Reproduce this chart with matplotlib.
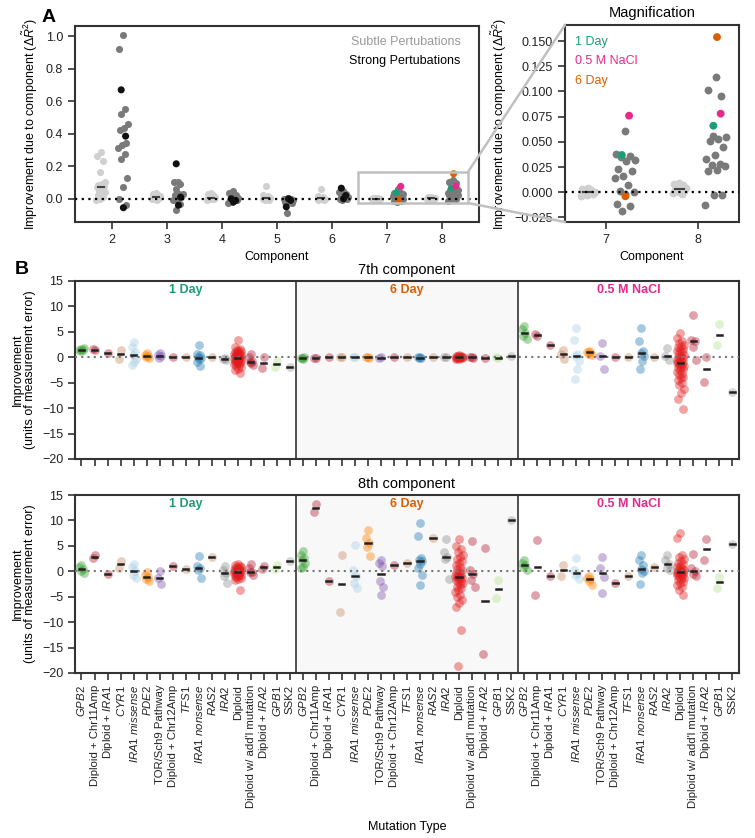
import numpy as np
import matplotlib
matplotlib.use("Agg")
import matplotlib.pyplot as plt
from matplotlib.patches import Rectangle, ConnectionPatch

plt.rcParams['font.family'] = ['Liberation Sans', 'DejaVu Sans']
plt.rcParams['mathtext.fontset'] = 'custom'
plt.rcParams['mathtext.rm'] = 'Liberation Sans'
plt.rcParams['mathtext.it'] = 'Liberation Sans:italic'
plt.rcParams['mathtext.bf'] = 'Liberation Sans:bold'
plt.rcParams['axes.unicode_minus'] = True

# ---------------- panel A data (components 2..8) ----------------
components = [2, 3, 4, 5, 6, 7, 8]
subtle_vals = [
    [0.29, 0.26, 0.23, 0.165, 0.10, 0.09, 0.085, 0.08, 0.075, 0.07, 0.065, 0.05, 0.04, 0.03, 0.02, 0.01, 0.0, -0.005],
    [0.035, 0.03, 0.025, 0.02, 0.015, 0.01, 0.01, 0.005, 0.0, 0.0, -0.005],
    [0.035, 0.03, 0.02, 0.015, 0.01, 0.005, 0.005, 0.0, 0.0, -0.005],
    [0.08, 0.02, 0.015, 0.01, 0.005, 0.0, 0.0, -0.005, -0.005],
    [0.06, 0.015, 0.01, 0.005, 0.0, 0.0, -0.005, -0.01],
    [0.004, 0.003, 0.002, 0.001, 0.0, 0.0, -0.001, -0.002, -0.003, -0.004],
    [0.009, 0.008, 0.007, 0.006, 0.004, 0.003, 0.002, 0.001, 0.0, -0.001, -0.002],
]
strong_vals = [
    [1.005, 0.92, 0.555, 0.52, 0.46, 0.435, 0.425, 0.345, 0.33, 0.31, 0.275, 0.245, 0.13, 0.07, 0.0, -0.04],
    [0.105, 0.10, 0.09, 0.06, 0.03, 0.03, 0.02, 0.01, 0.0, -0.01, -0.03, -0.07],
    [0.045, 0.035, 0.02, 0.01, 0.005, 0.0, -0.005, -0.01, -0.02, -0.025],
    [0.005, 0.0, 0.0, -0.005, -0.01, -0.015, -0.02, -0.025, -0.085],
    [0.05, 0.04, 0.03, 0.02, 0.01, 0.005, 0.0, 0.0, -0.005],
    [0.061, 0.038, 0.036, 0.035, 0.032, 0.031, 0.023, 0.021, 0.016, 0.014, 0.007, 0.001, 0.0, -0.002, -0.012, -0.014, -0.019],
    [0.114, 0.101, 0.096, 0.056, 0.055, 0.053, 0.051, 0.045, 0.037, 0.033, 0.028, 0.027, 0.026, 0.022, 0.021, -0.003, -0.003, -0.013],
]
env_day1 = [0.67, 0.215, 0.0, -0.05, 0.065, 0.037, 0.066]
env_nacl = [0.385, 0.01, -0.01, -0.01, 0.02, 0.076, 0.078]
env_day6 = [-0.055, -0.04, -0.02, 0.0, 0.0, -0.004, 0.154]

# ---------------- panel B data ----------------
cat_labels = [r'$\mathit{GPB2}$', 'Diploid + Chr11Amp', r'Diploid + $\mathit{IRA1}$', r'$\mathit{CYR1}$',
              r'$\mathit{IRA1\ missense}$', r'$\mathit{PDE2}$', 'TOR/Sch9 Pathway', 'Diploid + Chr12Amp',
              r'$\mathit{TFS1}$', r'$\mathit{IRA1\ nonsense}$', r'$\mathit{RAS2}$', r'$\mathit{IRA2}$',
              'Diploid', "Diploid w/ add'l mutation", r'Diploid + $\mathit{IRA2}$', r'$\mathit{GPB1}$', 'SSK2']
cat_colors = ['#33a02c', '#b2182b', '#b2182b', '#c8865e', '#a6cee3', '#ff7f00', '#7b52ab', '#b2182b',
              '#c8865e', '#1f78b4', '#c8865e', '#8c8c8c', '#e31a1c', '#b2182b', '#b2182b', '#b2df8a', '#9a9a9a']
env_names = ['1 Day', '6 Day', '0.5 M NaCl']
env_colors = ['#1b9e77', '#d95f02', '#e7298a']

c7_day1_diploid = [3.3, 2.0, 1.7, 1.5, 1.3, 1.2, 1.0, 0.9, 0.8, 0.7, 0.6, 0.5, 0.4, 0.3, 0.2, 0.1, 0.0, -0.1,
                   -0.2, -0.2, -0.3, -0.4, -0.5, -0.6, -0.7, -0.8, -0.9, -1.0, -1.1, -1.2, -1.4, -1.6, -1.8,
                   -2.0, -2.3, -2.6, -3.0]
c7_day6_diploid = [0.4, 0.3, 0.2, 0.2, 0.1, 0.1, 0.0, 0.0, 0.0, -0.1, -0.1, -0.2, -0.2, -0.3, -0.4]
c7_nacl_diploid = [4.7, 3.8, 3.2, 2.8, 2.5, 2.2, 2.0, 1.7, 1.5, 1.2, 1.0, 0.8, 0.5, 0.3, 0.1, -0.1, -0.3,
                   -0.5, -0.7, -0.9, -1.0, -1.1, -1.2, -1.4, -1.6, -1.8, -2.0, -2.2, -2.4, -2.6, -2.9, -3.2,
                   -3.5, -3.8, -4.1, -4.5, -5.0, -5.5, -6.3, -7.0, -8.3, -10.2]
c8_day1_diploid = [1.5, 1.3, 1.1, 0.9, 0.8, 0.7, 0.6, 0.5, 0.4, 0.3, 0.2, 0.1, 0.0, -0.1, -0.2, -0.2, -0.3,
                   -0.4, -0.5, -0.6, -0.7, -0.8, -0.9, -1.0, -1.1, -1.3, -1.5, -1.8, -3.7]
c8_day6_diploid = [6.3, 5.0, 4.3, 3.8, 3.3, 2.9, 2.5, 2.1, 1.7, 1.3, 0.9, 0.5, 0.2, -0.1, -0.4, -0.7, -0.9,
                   -1.0, -1.1, -1.2, -1.3, -1.5, -1.7, -1.9, -2.1, -2.4, -2.7, -3.0, -3.3, -3.7, -4.1, -4.6,
                   -5.1, -5.7, -6.3, -7.1, -11.5, -18.7]
c8_nacl_diploid = [7.5, 6.6, 3.3, 2.8, 2.4, 2.0, 1.7, 1.4, 1.1, 0.9, 0.7, 0.5, 0.3, 0.1, 0.0, -0.1, -0.2,
                   -0.25, -0.3, -0.4, -0.5, -0.6, -0.8, -1.0, -1.2, -1.4, -1.6, -1.8, -2.1, -2.4, -2.7, -3.1,
                   -3.6, -4.6]

c7_day1 = [[1.2, 1.4, 1.5, 1.7, 1.9], [1.4, 1.6], [0.8], [1.4, -0.3], [3.0, 2.0, 1.0, 0.5, -0.3, -1.0, -1.5],
           [0.9, 0.5, 0.3, 0.1, -0.1], [0.8, 0.4, 0.2, -0.1], [0.0], [0.0],
           [2.4, 0.6, 0.4, 0.0, -0.1, -0.4, -0.9, -1.7], [0.0], [-0.1, -0.3, -0.5], c7_day1_diploid,
           [0.7, 0.0, -0.8, -0.9, -1.6, -1.2], [0.0, -2.1], [-0.8, -1.9], [-1.9]]
c7_day6 = [[-0.3, -0.1, 0.0, -0.2], [-0.2, -0.1], [0.0], [0.0, 0.1], [0.0, 0.1], [0.0, 0.1, -0.1],
           [0.0, -0.1], [0.0], [0.0], [0.0, 0.1, -0.1, -0.2], [0.0], [0.0, 0.1], c7_day6_diploid,
           [0.0, 0.1, -0.1], [-0.1], [-0.1, 0.0], [0.2]]
c7_nacl = [[6.2, 5.5, 4.7, 4.1, 3.5], [4.2, 4.5], [2.4], [1.4, 0.7, -0.3], [5.7, 3.4, 0.6, 0.25, -0.8, -2.3, -4.3],
           [1.3, 1.1, 1.0, 0.7, 0.5], [2.75, 0.25, -2.4], [0.0], [0.0], [5.7, 3.1, 1.2, 0.8, 0.2, -0.7, -2.4],
           [0.0], [1.8, 0.25, -0.5], c7_nacl_diploid, [8.3, 3.4, 3.1, 2.1, -0.5], [0.0, -4.8], [6.5, 2.4], [-6.9]]
c8_day1 = [[1.2, 0.8, 0.45, 0.1, -0.4], [3.2, 2.6], [-0.5], [2.1, 0.7], [1.5, 0.9, 0.0, -0.7, -1.3],
           [-0.1, -0.8, -1.1, -1.5, -1.9], [0.1, -1.25, -2.5], [1.1], [0.4], [3.0, 1.0, 0.6, 0.2, -1.4],
           [2.75], [1.0, 0.3, -0.4, -1.0, -2.3], c8_day1_diploid, [1.5, 0.6, -0.1, -0.2, -0.7], [1.1, 0.4],
           [1.3, 0.4], [2.1]]
c8_day6 = [[4.0, 3.2, 2.7, 2.2, 1.7, 0.9, 0.6], [13.2, 11.6], [-1.9], [3.2, -8.1], [5.2, 0.2, -0.9, -2.4, -3.3],
           [8.1, 6.6, 5.5, 4.8, 3.1], [2.2, 1.6, 1.0, -2.0, -3.0, -4.7], [1.2], [1.7],
           [9.4, 7.0, 2.6, 2.3, 2.1, 1.5, 0.6, -0.7, -2.7], [6.5], [6.4, 3.7, 2.75, 2.4, -1.5], c8_day6_diploid,
           [6.0, 0.3, -0.5, -1.7, -3.0], [4.5, -16.2], [-1.7, -5.3], [10.0]]
c8_nacl = [[2.2, 1.6, 1.2, 0.8, 0.3], [6.2, -4.6], [-1.0], [1.3, -0.9], [2.7, 0.2, -0.25, -0.8, -1.6],
           [-1.0, -1.4, -1.6, -1.9, -2.7], [2.9, 0.6, -1.1, -4.3], [-2.4], [-0.9],
           [3.2, 2.2, 1.2, 0.45, 0.0, -0.4, -2.5], [0.9], [3.2, 2.2, 1.45, 0.7, 0.25], c8_nacl_diploid,
           [3.4, 0.6, 0.05, -0.5, -1.0], [6.3, 2.3], [-1.1, -3.3], [5.4]]

SPINE = '#333333'
FS = 9


def jitter(n, half):
    # deterministic low-discrepancy spread of points around a category centre
    if n == 1:
        return np.zeros(1)
    return ((np.arange(n) * 0.618034 + 0.5) % 1.0 - 0.5) * 2 * half


def style_axes(ax):
    for s in ax.spines.values():
        s.set_color(SPINE)
        s.set_linewidth(1.5)
    ax.tick_params(colors=SPINE, labelcolor='#222222', width=1.2, length=5, labelsize=FS)


fig = plt.figure(figsize=(7.55, 8.38), dpi=100)
axA = fig.add_axes([0.0993, 0.7351, 0.535, 0.2339])
axM = fig.add_axes([0.7483, 0.7351, 0.2305, 0.2351])
axB1 = fig.add_axes([0.0993, 0.4523, 0.8795, 0.2124])
axB2 = fig.add_axes([0.0993, 0.1969, 0.8795, 0.2124])

# ---------------- panel A ----------------
for ax, half_s, half_t, size in ((axA, 0.08, 0.1, 26), (axM, 0.08, 0.12, 32)):
    for i, c in enumerate(components):
        sv = np.array(subtle_vals[i])
        ax.scatter(c - 0.2 + jitter(len(sv), half_s), sv, s=size, color='#d0d0d0', lw=0, zorder=2)
        ax.plot([c - 0.25, c - 0.15], [np.median(sv)] * 2, color='#444444', lw=1.5, zorder=3)
        tv = np.array(strong_vals[i])
        ax.scatter(c + 0.2 + jitter(len(tv), half_t), tv, s=size, color='#7a7a7a', lw=0, zorder=2)
        ev = [env_day1[i], env_nacl[i], env_day6[i]]
        cols = [env_colors[0], env_colors[2], env_colors[1]] if c >= 7 else ['#111111'] * 3
        ax.scatter(c + 0.2 + np.array([-0.03, 0.05, 0.01]), ev, s=size, color=cols, lw=0, zorder=4)
    ax.axhline(0, color='k', ls=(0, (1, 2)), lw=1.6, zorder=5)
    style_axes(ax)
    ax.set_xlabel('Component', fontsize=FS)
    ax.set_ylabel(r'Improvement due to component ($\Delta\tilde{R}^2$)', fontsize=FS)

axA.set_xlim(1.33, 8.67)
axA.set_ylim(-0.143, 1.063)
axA.set_xticks(components)
axA.set_yticks(np.arange(0, 1.01, 0.2))
axA.set_yticklabels(['0.0', '0.2', '0.4', '0.6', '0.8', '1.0'])
axA.text(0.955, 0.918, 'Subtle Pertubations', color='#999999', fontsize=FS, ha='right', va='center',
         transform=axA.transAxes)
axA.text(0.955, 0.82, 'Strong Pertubations', color='black', fontsize=FS, ha='right', va='center',
         transform=axA.transAxes)

axM.set_xlim(6.55, 8.45)
axM.set_ylim(-0.0295, 0.166)
axM.set_xticks([7, 8])
axM.set_yticks(np.arange(-0.025, 0.151, 0.025))
axM.set_yticklabels(['{:.3f}'.format(v).replace('-', '\u2212') for v in np.arange(-0.025, 0.151, 0.025)])
axM.set_title('Magnification', fontsize=10.5, pad=6)
for j, (name, col) in enumerate(zip(['1 Day', '0.5 M NaCl', '6 Day'], [env_colors[0], env_colors[2], env_colors[1]])):
    axM.text(0.06, 0.914 - 0.098 * j, name, color=col, fontsize=FS, va='center', transform=axM.transAxes)

# zoom box and connectors
x0, x1 = 6.47, 8.47
y0, y1 = -0.026, 0.164
axA.add_patch(Rectangle((x0, y0), x1 - x0, y1 - y0, fill=False, ec='#c0c0c0', lw=1.8, zorder=6))
for ya, yb in ((y1, 1.0), (y0, 0.0)):
    con = ConnectionPatch(xyA=(x1, ya), coordsA=axA.transData, xyB=(0.0, yb), coordsB=axM.transAxes,
                          color='#c0c0c0', lw=1.8)
    fig.add_artist(con)

# ---------------- panel B ----------------
ncat = len(cat_labels)
for ax, groups, title in ((axB1, (c7_day1, c7_day6, c7_nacl), '7th component'),
                          (axB2, (c8_day1, c8_day6, c8_nacl), '8th component')):
    ax.axvspan(ncat - 0.5, 2 * ncat - 0.5, color='#f8f8f8', zorder=0)
    for e, data in enumerate(groups):
        for k, vals in enumerate(data):
            v = np.array(vals)
            x = e * ncat + k
            half = 0.3 if len(v) > 12 else 0.2
            ax.scatter(x + jitter(len(v), half), v, s=40, color=cat_colors[k], alpha=0.4, lw=0, zorder=2)
            ax.plot([x - 0.2, x + 0.2], [np.median(v)] * 2, color='#222222', lw=1.8, zorder=4)
        ax.text(e * ncat + (ncat - 1) / 2, 13.3, env_names[e], color=env_colors[e], fontsize=FS,
                weight='bold', ha='center', va='center')
    for b in (ncat - 0.5, 2 * ncat - 0.5):
        ax.axvline(b, color=SPINE, lw=1.2, zorder=5)
    ax.axhline(0, color='#777777', ls=(0, (1, 2)), lw=1.5, zorder=3)
    ax.set_xlim(-0.5, 3 * ncat - 0.5)
    ax.set_ylim(-20, 15)
    ax.set_yticks(np.arange(-20, 16, 5))
    ax.set_xticks(np.arange(3 * ncat))
    style_axes(ax)
    ax.set_ylabel('Improvement\n(units of measurement error)', fontsize=FS, linespacing=1.0)
    ax.set_title(title, fontsize=10.5, pad=5)

axB1.set_xticklabels([])
axB2.set_xticklabels(cat_labels * 3, rotation=90, fontsize=8.2)
axB2.set_xlabel('Mutation Type', fontsize=FS, labelpad=9)

fig.text(42 / 755, 1 - 17 / 838, 'A', fontsize=14, weight='bold', va='center', ha='left')
fig.text(15 / 755, 1 - 270 / 838, 'B', fontsize=14, weight='bold', va='center', ha='left')

fig.savefig('out.png', dpi=100)
